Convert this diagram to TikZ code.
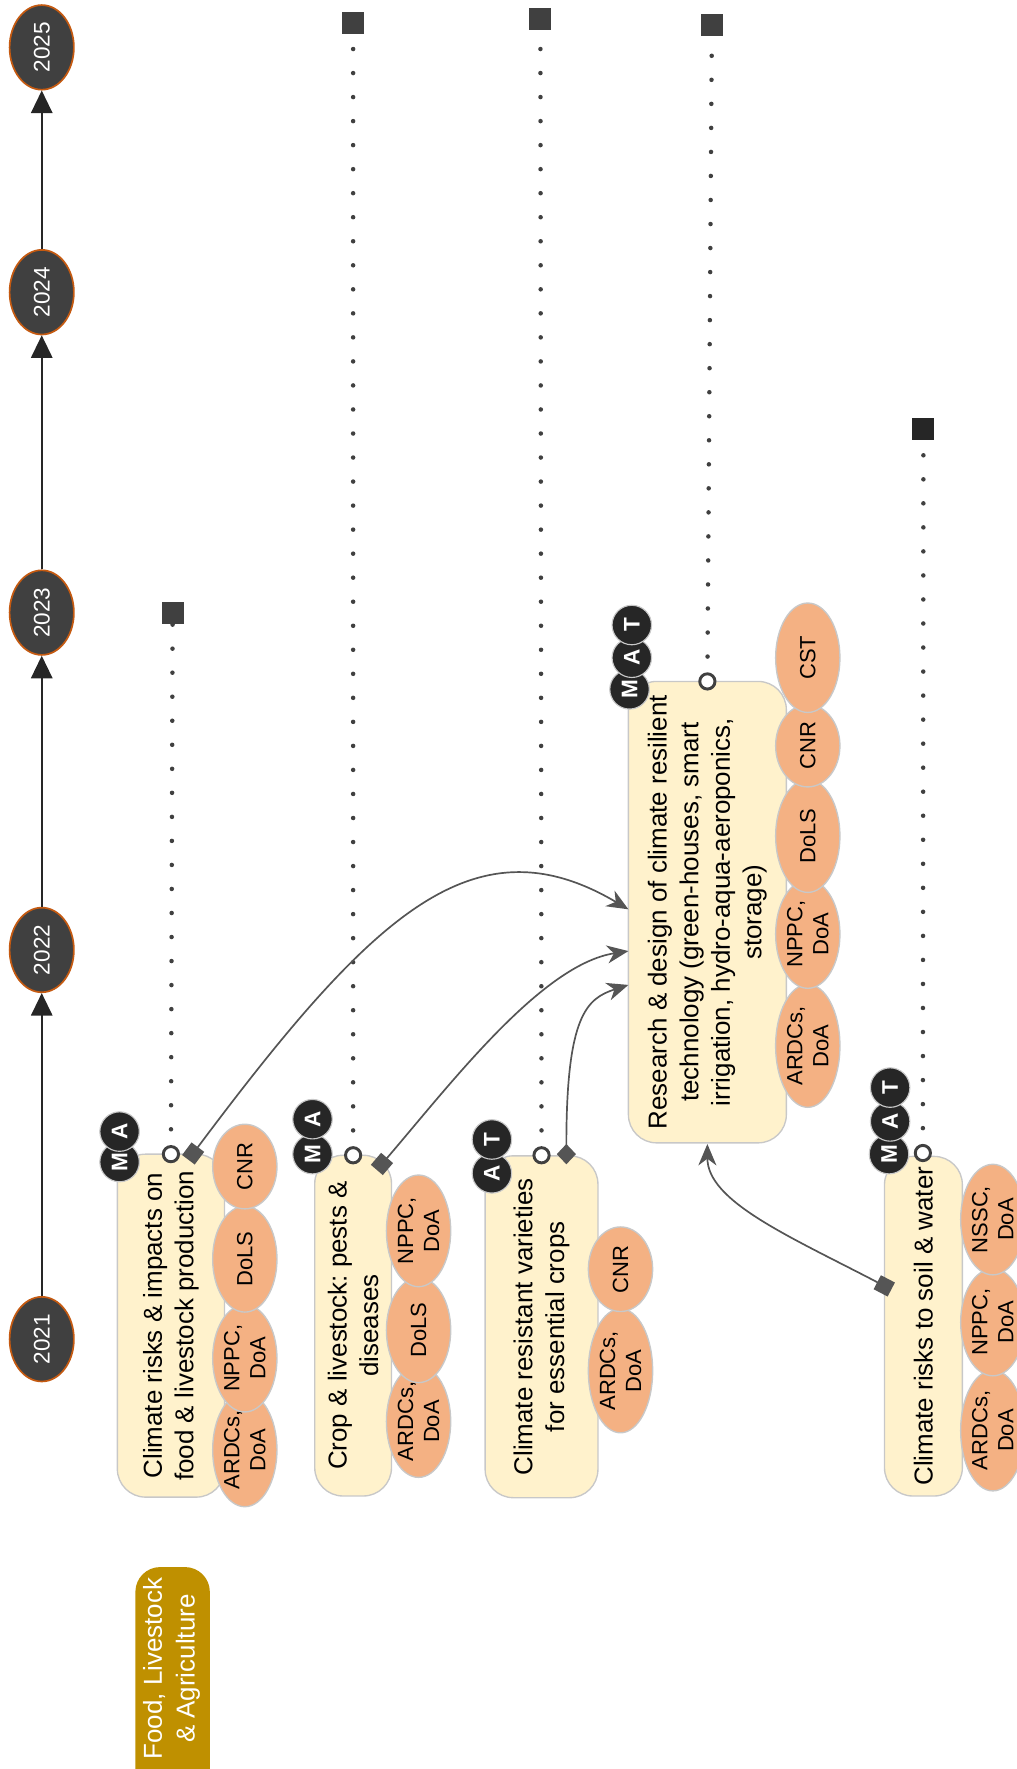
\documentclass[tikz,border=0pt]{standalone}
\usepackage{fontspec}
\setmainfont{Liberation Sans}
\usetikzlibrary{shapes.geometric,arrows.meta}
\definecolor{yearfill}{HTML}{404040}
\definecolor{yearedge}{HTML}{C55A11}
\definecolor{boxfill}{HTML}{FFF2CC}
\definecolor{boxedge}{HTML}{C8C8C8}
\definecolor{orgfill}{HTML}{F4B183}
\definecolor{orgedge}{HTML}{C8C8C8}
\definecolor{badgefill}{HTML}{262626}
\definecolor{linkc}{HTML}{555555}
\definecolor{dotc}{HTML}{404040}
\definecolor{catfill}{HTML}{BF9000}
\frenchspacing
\begin{document}
\begin{tikzpicture}[x=1pt,y=-1pt,
 year/.style={ellipse, fill=yearfill, draw=yearedge, line width=1.5pt, minimum width=75pt, minimum height=57pt, inner sep=0pt, rotate=90, text=white, font=\fontsize{20}{24}\selectfont},
 task/.style={rectangle, rounded corners=25pt, fill=boxfill, draw=boxedge, line width=1.2pt, rotate=90, align=center, inner sep=0pt, font=\fontsize{23}{28}\selectfont},
 org/.style={ellipse, fill=orgfill, draw=orgedge, line width=1.2pt, rotate=90, align=center, inner sep=-4pt, minimum height=57pt, font=\fontsize{19.5}{23}\selectfont},
 badge/.style={circle, fill=badgefill, draw=boxedge, line width=1pt, minimum size=35pt, inner sep=0pt, rotate=90, text=white, font=\fontsize{20}{20}\selectfont\bfseries},
 opencirc/.style={circle, draw=dotc, line width=2.6pt, fill=white, minimum size=13.5pt, inner sep=0pt},
 endsq/.style={rectangle, fill=dotc, minimum size=19.5pt, inner sep=0pt},
 dotline/.style={draw=dotc, line width=4pt, line cap=round, dash pattern=on 0pt off 21.3pt, shorten <=14pt},
 tl/.style={draw=black!85, line width=1.5pt, -{Triangle[length=20pt,width=19pt]}},
 link/.style={draw=linkc, line width=1.5pt},
 sqlink/.style={link, {Square[length=14pt,width=14pt]}-{Stealth[length=19pt,width=16pt,inset=6pt]}},
 dmlink/.style={link, {Diamond[length=18pt,width=17pt]}-{Stealth[length=19pt,width=16pt,inset=6pt]}}
]
\useasboundingbox (0,0) rectangle (901,1568);

% timeline
\node[year] (y2025) at (37,42) {2025};
\node[year] (y2024) at (37,259) {2024};
\node[year] (y2023) at (37,543) {2023};
\node[year] (y2022) at (37,842) {2022};
\node[year] (y2021) at (37,1187) {2021};
\draw[tl] (y2021) -- (y2022);
\draw[tl] (y2022) -- (y2023);
\draw[tl] (y2023) -- (y2024);
\draw[tl] (y2024) -- (y2025);

% category
\fill[catfill, rounded corners=22pt] (120,1389) rectangle (186,1620);
\node[rotate=90, text=white, align=center, font=\fontsize{23}{29}\selectfont] (cat) at (152,1479) {Food, Livestock\\\& Agriculture};

% boxes
\node[task, minimum width=304pt, minimum height=95pt] (b1) at (151.5,1175) {Climate risks \& impacts on\\food \& livestock production};
\node[task, minimum width=302pt, minimum height=68pt] (b2) at (313,1175) {Crop \& livestock: pests \&\\diseases};
\node[task, minimum width=303pt, minimum height=100pt] (b3) at (480,1176) {Climate resistant varieties\\for essential crops};
\node[task, minimum width=409pt, minimum height=140pt] (br) at (627,808.5) {Research \& design of climate resilient\\technology (green-houses, smart\\irrigation, hydro-aqua-aeroponics,\\storage)};
\node[task, minimum width=301pt, minimum height=69pt] (b5) at (818.5,1175.5) {Climate risks to soil \& water};

% organisations
\node[org, minimum width=101pt] (o1a) at (217,1285) {ARDCs,\\DoA};
\node[org, minimum width=95pt] (o1b) at (217,1204) {NPPC,\\DoA};
\node[org, minimum width=94pt] (o1c) at (217,1116) {DoLS};
\node[org, minimum width=75pt] (o1d) at (217,1034) {CNR};

\node[org, minimum width=99pt] (o2a) at (371,1260) {ARDCs,\\DoA};
\node[org, minimum width=93pt] (o2b) at (371,1179) {DoLS};
\node[org, minimum width=99pt] (o2c) at (371,1091) {NPPC,\\DoA};

\node[org, minimum width=110pt] (o3a) at (550,1215) {ARDCs,\\DoA};
\node[org, minimum width=75pt] (o3b) at (550,1125) {CNR};

\node[org, minimum width=109pt] (ora) at (716,927) {ARDCs,\\DoA};
\node[org, minimum width=96pt] (orb) at (716,828) {NPPC,\\DoA};
\node[org, minimum width=100pt] (orc) at (716,741) {DoLS};
\node[org, minimum width=73pt] (ord) at (716,661) {CNR};
\node[org, minimum width=97pt] (ore) at (716,583) {CST};

\node[org, minimum width=107pt] (o5a) at (880,1268) {ARDCs,\\DoA};
\node[org, minimum width=95pt] (o5b) at (880,1172) {NPPC,\\DoA};
\node[org, minimum width=98pt] (o5c) at (880,1081) {NSSC,\\DoA};

% badges
\node[badge] (g1m) at (106,1030) {M};
\node[badge] (g1a) at (106,1003) {A};
\node[badge] (g2m) at (277,1023) {M};
\node[badge] (g2a) at (277,992) {A};
\node[badge] (g3a) at (436,1040) {A};
\node[badge] (g3t) at (436,1010) {T};
\node[badge] (grm) at (558,611) {M};
\node[badge] (gra) at (560,583) {A};
\node[badge] (grt) at (560,554) {T};
\node[badge] (g5m) at (788,1023) {M};
\node[badge] (g5a) at (789,994) {A};
\node[badge] (g5t) at (789,964) {T};

% milestone markers
\node[opencirc] (c1) at (151.5,1023) {};
\node[opencirc] (c2) at (313,1024) {};
\node[opencirc] (c3) at (480,1024) {};
\node[opencirc] (cr) at (627,604) {};
\node[opencirc] (c5) at (818,1022) {};
\node[endsq] (t1) at (153,543) {};
\node[endsq] (t2) at (313,20) {};
\node[endsq] (t3) at (479,16.5) {};
\node[endsq] (tr) at (631,22) {};
\node[endsq, fill=badgefill] (t5) at (818.5,380) {};
\draw[dotline] (c1) -- (t1);
\draw[dotline] (c2) -- (t2);
\draw[dotline] (c3) -- (t3);
\draw[dotline] (cr) -- (tr);
\draw[dotline] (c5) -- (t5);

% dependency links
\coordinate (s1) at (167,1028);
\coordinate (s2) at (334,1037);
\coordinate (s3) at (502,1032);
\coordinate (s5) at (790,1143);
\coordinate (r1) at (557,806);
\coordinate (r2) at (557,843);
\coordinate (r3) at (557,873);
\coordinate (rb) at (627,1014);
\draw[sqlink] (s1) .. controls (330,810) and (420,725) .. (r1);
\draw[sqlink] (s2) .. controls (400,960) and (480,855) .. (r2);
\draw[dmlink] (s3) .. controls (502,900) and (520,885) .. (r3);
\draw[sqlink] (s5) .. controls (700,1096) and (627,1065) .. (rb);
\end{tikzpicture}
\end{document}
